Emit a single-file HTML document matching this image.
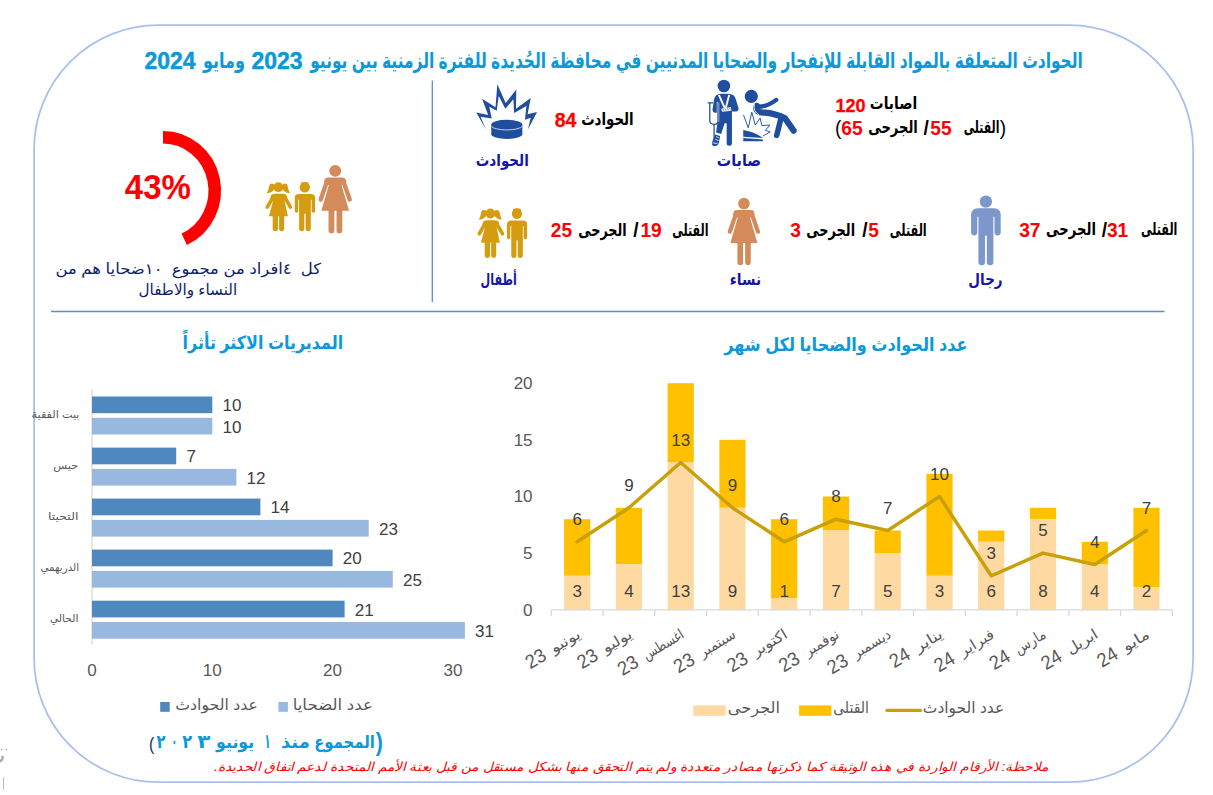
<!DOCTYPE html>
<html lang="ar"><head><meta charset="utf-8"><title>الحوادث المتعلقة بالمواد القابلة للإنفجار</title>
<style>html,body{margin:0;padding:0;background:#fff;overflow:hidden}svg{display:block}text{font-family:"Liberation Sans","DejaVu Sans",sans-serif;white-space:pre}</style></head><body>
<svg width="1213" height="795" viewBox="0 0 1213 795">
<rect width="1213" height="795" fill="#fff"/>
<rect x="34.1" y="25.2" width="1159" height="757" rx="124" ry="124" fill="none" stroke="#A9C0EE" stroke-width="1.8"/>
<line x1="432.3" y1="80.5" x2="432.3" y2="302.2" stroke="#5F88D0" stroke-width="1.3"/>
<line x1="51" y1="311.6" x2="1164.5" y2="311.6" stroke="#5F88D0" stroke-width="1.5"/>
<text x="696.5" y="67.6" font-size="21.5" fill="#0B99DA" text-anchor="middle" textLength="772.7" lengthAdjust="spacingAndGlyphs" font-weight="bold">الحوادث المتعلقة بالمواد القابلة للإنفجار والضحايا المدنيين في محافظة الحُديدة للفترة الزمنية بين يونيو</text>
<text transform="translate(277.0,68.6) scale(0.935,1)" font-size="24.6" fill="#0B99DA" text-anchor="middle" font-weight="bold" stroke="#0B99DA" stroke-width="0.45">2023</text>
<text x="224.0" y="67.6" font-size="21.5" fill="#0B99DA" text-anchor="middle" textLength="42.2" lengthAdjust="spacingAndGlyphs" font-weight="bold">ومايو</text>
<text transform="translate(170.0,68.6) scale(0.935,1)" font-size="24.6" fill="#0B99DA" text-anchor="middle" font-weight="bold" stroke="#0B99DA" stroke-width="0.45">2024</text>
<path d="M163.0,137.3 A51.75,53.3 0 0 1 184.21,239.22" fill="none" stroke="#FF0000" stroke-width="12.6"/>
<text x="157.8" y="199.4" font-size="34.5" font-weight="bold" fill="#FF0000" text-anchor="middle" textLength="66" lengthAdjust="spacingAndGlyphs">43%</text>
<text x="188.3" y="273.5" font-size="15.3" fill="#10226A" text-anchor="middle" textLength="265.7" lengthAdjust="spacingAndGlyphs">كل  ٤افراد من مجموع  ١٠ضحايا هم من</text>
<text x="187.8" y="294.5" font-size="15.3" fill="#10226A" text-anchor="middle" textLength="98.6" lengthAdjust="spacingAndGlyphs">النساء والاطفال</text>
<g transform="translate(265.30,182.20) scale(1.0000,1.0000)" fill="#D59C10"><circle cx="13.1" cy="4.95" r="4.95"/><path d="M8.7,1.9 Q5.0,0.2 3.9,3.6 Q3.4,7.6 1.6,10.9 Q6.0,10.9 8.6,7.8 Z"/><path d="M17.5,1.9 Q21.2,0.2 22.3,3.6 Q22.8,7.6 24.6,10.9 Q20.2,10.9 17.6,7.8 Z"/><rect x="5.3" y="11.5" width="16.5" height="7" rx="4.4" ry="4"/><path d="M8.1,17.2 H19 L22.6,34 H3.6 Z"/><path d="M8.2,14.3 L1.95,25 M18.9,14.3 L25.15,25" stroke="#D59C10" stroke-width="3.6" stroke-linecap="round" fill="none"/><path d="M7.4,33.5 H12.7 V46.4 A2.65,2.65 0 0 1 7.4,46.4 Z M13.8,33.5 H18.9 V46.4 A2.55,2.55 0 0 1 13.8,46.4 Z"/></g>
<g transform="translate(294.40,182.20) scale(1.0000,1.0000)" fill="#D59C10"><circle cx="10.4" cy="5.1" r="5.15"/><path d="M6.2,0.6 Q10.4,-1.1 14.4,0.5 L13.6,3 H7.2 Z"/><path d="M4.4,11.9 H16.6 A4.1,4.1 0 0 1 20.7,16 V28.8 A1.75,1.75 0 0 1 17.2,28.8 V17.5 H16.4 V46.4 A2.6,2.6 0 0 1 11.2,46.4 V31.5 H9.9 V46.4 A2.6,2.6 0 0 1 4.7,46.4 V17.5 H3.8 V28.8 A1.75,1.75 0 0 1 0.3,28.8 V16 A4.1,4.1 0 0 1 4.4,11.9 Z"/></g>
<g transform="translate(318.50,165.00) scale(1.0121,1.0015)" fill="#D38B5B"><circle cx="16.55" cy="5.8" r="5.9"/><rect x="5.7" y="12.4" width="21.6" height="7.6" rx="4.2" ry="4.2"/><path d="M10.45,19.2 H22.55 L30.2,45.8 H2.8 Z"/><path d="M8.8,15.2 L2.15,34.4 M24.2,15.2 L30.85,34.4" stroke="#D38B5B" stroke-width="4.3" stroke-linecap="round" fill="none"/><path d="M9.9,45 H15.7 V65.3 A2.9,2.9 0 0 1 9.9,65.3 Z M17.8,45 H23.5 V65.3 A2.85,2.85 0 0 1 17.8,65.3 Z"/></g>
<g transform="translate(477.30,208.60) scale(1.0000,1.0061)" fill="#D59C10"><circle cx="13.1" cy="4.95" r="4.95"/><path d="M8.7,1.9 Q5.0,0.2 3.9,3.6 Q3.4,7.6 1.6,10.9 Q6.0,10.9 8.6,7.8 Z"/><path d="M17.5,1.9 Q21.2,0.2 22.3,3.6 Q22.8,7.6 24.6,10.9 Q20.2,10.9 17.6,7.8 Z"/><rect x="5.3" y="11.5" width="16.5" height="7" rx="4.4" ry="4"/><path d="M8.1,17.2 H19 L22.6,34 H3.6 Z"/><path d="M8.2,14.3 L1.95,25 M18.9,14.3 L25.15,25" stroke="#D59C10" stroke-width="3.6" stroke-linecap="round" fill="none"/><path d="M7.4,33.5 H12.7 V46.4 A2.65,2.65 0 0 1 7.4,46.4 Z M13.8,33.5 H18.9 V46.4 A2.55,2.55 0 0 1 13.8,46.4 Z"/></g>
<g transform="translate(506.60,208.60) scale(0.9905,1.0061)" fill="#D59C10"><circle cx="10.4" cy="5.1" r="5.15"/><path d="M6.2,0.6 Q10.4,-1.1 14.4,0.5 L13.6,3 H7.2 Z"/><path d="M4.4,11.9 H16.6 A4.1,4.1 0 0 1 20.7,16 V28.8 A1.75,1.75 0 0 1 17.2,28.8 V17.5 H16.4 V46.4 A2.6,2.6 0 0 1 11.2,46.4 V31.5 H9.9 V46.4 A2.6,2.6 0 0 1 4.7,46.4 V17.5 H3.8 V28.8 A1.75,1.75 0 0 1 0.3,28.8 V16 A4.1,4.1 0 0 1 4.4,11.9 Z"/></g>
<g transform="translate(727.70,197.80) scale(0.9818,0.9853)" fill="#D38B5B"><circle cx="16.55" cy="5.8" r="5.9"/><rect x="5.7" y="12.4" width="21.6" height="7.6" rx="4.2" ry="4.2"/><path d="M10.45,19.2 H22.55 L30.2,45.8 H2.8 Z"/><path d="M8.8,15.2 L2.15,34.4 M24.2,15.2 L30.85,34.4" stroke="#D38B5B" stroke-width="4.3" stroke-linecap="round" fill="none"/><path d="M9.9,45 H15.7 V65.3 A2.9,2.9 0 0 1 9.9,65.3 Z M17.8,45 H23.5 V65.3 A2.85,2.85 0 0 1 17.8,65.3 Z"/></g>
<g transform="translate(971.10,195.40) scale(1.0000,0.9986)" fill="#7C97C9"><circle cx="14.8" cy="6.2" r="6.2"/><path d="M6.2,12.9 H23.4 A6.2,6.2 0 0 1 29.6,19.1 V37 A3.1,3.1 0 0 1 23.4,37 V21.5 H22.3 V66.7 A3.3,3.3 0 0 1 15.7,66.7 V40.5 H13.9 V66.7 A3.3,3.3 0 0 1 7.3,66.7 V21.5 H6.2 V37 A3.1,3.1 0 0 1 0,37 V19.1 A6.2,6.2 0 0 1 6.2,12.9 Z"/></g>
<g transform="translate(470,80) scale(0.08179)" fill="#1F4E9F"><path d="M200,612 L76,396 L222,428 L148,230 L312,332 L334,52 L436,282 L566,116 L562,352 L742,220 L704,420 L820,392 L708,604 L742,462 L672,486 L690,318 L540,402 L530,236 L432,352 L352,196 L326,376 L236,326 L266,470 L128,450 Z"/><path d="M260,548 V662 A190,58 0 0 0 640,662 V548 Z"/><ellipse cx="450" cy="545" rx="190" ry="58"/><path d="M262,566 A190,52 0 0 0 638,566" fill="none" stroke="#fff" stroke-width="9"/></g>
<g transform="translate(700,75) scale(0.12575)" fill="#1F4E9F" stroke="none"><circle cx="190" cy="88" r="50"/><path d="M118,300 Q98,296 100,270 L112,196 Q120,152 166,150 H226 Q274,152 286,196 L306,262 Q310,286 288,290 L254,290 V542 Q254,562 233,562 Q212,562 212,542 V384 H196 L168,470 L128,458 L150,300 Z"/><path d="M150,158 L196,262 M232,158 L205,262" stroke="#fff" stroke-width="15" fill="none"/><path d="M168,268 L246,254 L250,284 L176,292 Z" fill="#fff"/><path d="M182,270 l8,16 M200,267 l8,16 M218,264 l8,16 M236,261 l6,14" stroke="#1F4E9F" stroke-width="5" fill="none"/><path d="M143,214 V372" stroke="#fff" stroke-width="19" fill="none"/><path d="M64,221 H102 M78,224 V368 Q80,392 112,392 M152,212 Q143,212 143,228 V368 Q142,392 112,392 V520" stroke="#1F4E9F" stroke-width="10" fill="none" stroke-linecap="round"/><path d="M120,474 L160,486 L150,540 Q140,566 110,566 Q92,562 94,540 Z"/><path d="M128,490 L150,500 M122,512 L148,522 M100,540 L140,544" stroke="#fff" stroke-width="6" fill="none"/><circle cx="408" cy="170" r="52"/><path d="M470,252 Q540,250 606,198" stroke="#1F4E9F" stroke-width="34" stroke-linecap="round" fill="none"/><path d="M452,246 Q430,300 520,300 Q610,310 676,344 L744,442" stroke="#1F4E9F" stroke-width="50" stroke-linecap="round" stroke-linejoin="round" fill="none"/><path d="M640,360 L610,480" stroke="#1F4E9F" stroke-width="44" stroke-linecap="round" fill="none"/><path d="M432,232 Q420,290 470,318" stroke="#fff" stroke-width="7" fill="none"/><path d="M346,318 L384,420 L412,296 L440,398 L478,342 L492,402 L556,398 L520,440 L558,452 L500,486" stroke="#1F4E9F" stroke-width="7.5" fill="none" stroke-linejoin="miter"/><path d="M344,438 Q430,452 500,500 L344,492 Z M344,500 L500,512 V526 H344 Z"/></g>
<text x="502.3" y="166.0" font-size="16.3" fill="#1616A6" text-anchor="middle" textLength="53.0" lengthAdjust="spacingAndGlyphs" font-weight="bold">الحوادث</text>
<text x="739.0" y="165.8" font-size="16.3" fill="#1616A6" text-anchor="middle" textLength="44.3" lengthAdjust="spacingAndGlyphs" font-weight="bold">صابات</text>
<text x="498.7" y="284.8" font-size="16.3" fill="#1616A6" text-anchor="middle" textLength="36.2" lengthAdjust="spacingAndGlyphs" font-weight="bold">أطفال</text>
<text x="745.4" y="284.8" font-size="16.3" fill="#1616A6" text-anchor="middle" textLength="31.4" lengthAdjust="spacingAndGlyphs" font-weight="bold">نساء</text>
<text x="985.5" y="284.8" font-size="16.3" fill="#1616A6" text-anchor="middle" textLength="34.3" lengthAdjust="spacingAndGlyphs" font-weight="bold">رجال</text>
<text transform="translate(565.6,127.2) scale(0.95,1)" font-size="20.6" fill="#FF0000" text-anchor="middle" font-weight="bold" stroke="#FF0000" stroke-width="0.3">84</text>
<text x="607.4" y="124.5" font-size="17.0" fill="#000000" text-anchor="middle" textLength="52.4" lengthAdjust="spacingAndGlyphs" font-weight="bold">الحوادث</text>
<text transform="translate(850.6,111.6) scale(0.95,1)" font-size="19.0" fill="#FF0000" text-anchor="middle" font-weight="bold" stroke="#FF0000" stroke-width="0.3">120</text>
<text x="893.5" y="108.6" font-size="17.0" fill="#000000" text-anchor="middle" textLength="47.3" lengthAdjust="spacingAndGlyphs" font-weight="bold">اصابات</text>
<text transform="translate(838.2,134.5) scale(0.93,1)" font-size="20.6" fill="#000000" text-anchor="middle">(</text>
<text transform="translate(852.0,134.5) scale(0.93,1)" font-size="20.6" fill="#FF0000" text-anchor="middle" font-weight="bold">65</text>
<text x="893.0" y="132.8" font-size="17.0" fill="#000000" text-anchor="middle" textLength="49.7" lengthAdjust="spacingAndGlyphs" font-weight="bold">الجرحى</text>
<text transform="translate(926.2,134.5) scale(0.93,1)" font-size="20.6" fill="#000000" text-anchor="middle" font-weight="bold">/</text>
<text transform="translate(941.0,134.5) scale(0.93,1)" font-size="20.6" fill="#FF0000" text-anchor="middle" font-weight="bold">55</text>
<text x="981.6" y="132.8" font-size="17.0" fill="#000000" text-anchor="middle" textLength="35.6" lengthAdjust="spacingAndGlyphs" font-weight="bold">القتلى</text>
<text transform="translate(1003.0,134.5) scale(0.93,1)" font-size="20.6" fill="#000000" text-anchor="middle">)</text>
<text transform="translate(561.4,237.2) scale(0.93,1)" font-size="20.6" fill="#FF0000" text-anchor="middle" font-weight="bold">25</text>
<text x="602.5" y="235.5" font-size="17.0" fill="#000000" text-anchor="middle" textLength="48.5" lengthAdjust="spacingAndGlyphs" font-weight="bold">الجرحى</text>
<text transform="translate(635.8,237.2) scale(0.93,1)" font-size="20.6" fill="#000000" text-anchor="middle" font-weight="bold">/</text>
<text transform="translate(651.1,237.2) scale(0.93,1)" font-size="20.6" fill="#FF0000" text-anchor="middle" font-weight="bold">19</text>
<text x="690.4" y="235.5" font-size="17.0" fill="#000000" text-anchor="middle" textLength="36.3" lengthAdjust="spacingAndGlyphs" font-weight="bold">القتلى</text>
<text transform="translate(795.6,237.2) scale(0.93,1)" font-size="20.6" fill="#FF0000" text-anchor="middle" font-weight="bold">3</text>
<text x="830.7" y="235.5" font-size="17.0" fill="#000000" text-anchor="middle" textLength="48.8" lengthAdjust="spacingAndGlyphs" font-weight="bold">الجرحى</text>
<text transform="translate(864.8,237.2) scale(0.93,1)" font-size="20.6" fill="#000000" text-anchor="middle" font-weight="bold">/</text>
<text transform="translate(873.7,237.2) scale(0.93,1)" font-size="20.6" fill="#FF0000" text-anchor="middle" font-weight="bold">5</text>
<text x="908.3" y="235.5" font-size="17.0" fill="#000000" text-anchor="middle" textLength="36.9" lengthAdjust="spacingAndGlyphs" font-weight="bold">القتلى</text>
<text transform="translate(1029.8,236.9) scale(0.93,1)" font-size="20.6" fill="#FF0000" text-anchor="middle" font-weight="bold">37</text>
<text x="1071.0" y="235.2" font-size="17.0" fill="#000000" text-anchor="middle" textLength="49.9" lengthAdjust="spacingAndGlyphs" font-weight="bold">الجرحى</text>
<text transform="translate(1104.5,236.9) scale(0.93,1)" font-size="20.6" fill="#000000" text-anchor="middle" font-weight="bold">/</text>
<text transform="translate(1117.6,236.9) scale(0.93,1)" font-size="20.6" fill="#FF0000" text-anchor="middle" font-weight="bold">31</text>
<text x="1159.2" y="235.2" font-size="17.0" fill="#000000" text-anchor="middle" textLength="36.4" lengthAdjust="spacingAndGlyphs" font-weight="bold">القتلى</text>
<text x="262.9" y="348.9" font-size="18.6" fill="#0B99DA" text-anchor="middle" textLength="160.7" lengthAdjust="spacingAndGlyphs" font-weight="bold">المديريات الاكثر تأثراً</text>
<line x1="92.0" y1="389.5" x2="92.0" y2="644.5" stroke="#D9D9D9" stroke-width="1.3"/>
<rect x="92.0" y="396.5" width="120.3" height="16.7" fill="#4F88BE"/>
<rect x="92.0" y="417.8" width="120.3" height="16.7" fill="#98B8DF"/>
<text transform="translate(222.5,411.3) scale(0.98,1)" font-size="17.4" fill="#404040" text-anchor="start">10</text>
<text transform="translate(222.5,432.6) scale(0.98,1)" font-size="17.4" fill="#404040" text-anchor="start">10</text>
<text x="55.5" y="417.7" font-size="10.6" fill="#595959" text-anchor="middle" textLength="48.0" lengthAdjust="spacingAndGlyphs">بيت الفقية</text>
<rect x="92.0" y="447.6" width="84.2" height="16.7" fill="#4F88BE"/>
<rect x="92.0" y="468.9" width="144.4" height="16.7" fill="#98B8DF"/>
<text transform="translate(186.4,462.4) scale(0.98,1)" font-size="17.4" fill="#404040" text-anchor="start">7</text>
<text transform="translate(246.6,483.7) scale(0.98,1)" font-size="17.4" fill="#404040" text-anchor="start">12</text>
<text x="65.8" y="468.8" font-size="10.6" fill="#595959" text-anchor="middle" textLength="24.9" lengthAdjust="spacingAndGlyphs">حيس</text>
<rect x="92.0" y="498.6" width="168.4" height="16.7" fill="#4F88BE"/>
<rect x="92.0" y="519.9" width="276.7" height="16.7" fill="#98B8DF"/>
<text transform="translate(270.6,513.4) scale(0.98,1)" font-size="17.4" fill="#404040" text-anchor="start">14</text>
<text transform="translate(378.9,534.7) scale(0.98,1)" font-size="17.4" fill="#404040" text-anchor="start">23</text>
<text x="63.2" y="519.8" font-size="10.6" fill="#595959" text-anchor="middle" textLength="30.5" lengthAdjust="spacingAndGlyphs">التحيتا</text>
<rect x="92.0" y="549.6" width="240.6" height="16.7" fill="#4F88BE"/>
<rect x="92.0" y="570.9" width="300.8" height="16.7" fill="#98B8DF"/>
<text transform="translate(342.8,564.4) scale(0.98,1)" font-size="17.4" fill="#404040" text-anchor="start">20</text>
<text transform="translate(402.9,585.7) scale(0.98,1)" font-size="17.4" fill="#404040" text-anchor="start">25</text>
<text x="59.8" y="570.9" font-size="10.6" fill="#595959" text-anchor="middle" textLength="38.5" lengthAdjust="spacingAndGlyphs">الدريهمي</text>
<rect x="92.0" y="600.7" width="252.6" height="16.7" fill="#4F88BE"/>
<rect x="92.0" y="622.0" width="372.9" height="16.7" fill="#98B8DF"/>
<text transform="translate(354.8,615.5) scale(0.98,1)" font-size="17.4" fill="#404040" text-anchor="start">21</text>
<text transform="translate(475.1,636.8) scale(0.98,1)" font-size="17.4" fill="#404040" text-anchor="start">31</text>
<text x="64.2" y="621.9" font-size="10.6" fill="#595959" text-anchor="middle" textLength="28.5" lengthAdjust="spacingAndGlyphs">الحالي</text>
<text transform="translate(92.0,676.4) scale(0.98,1)" font-size="17.4" fill="#595959" text-anchor="middle">0</text>
<text transform="translate(212.3,676.4) scale(0.98,1)" font-size="17.4" fill="#595959" text-anchor="middle">10</text>
<text transform="translate(332.6,676.4) scale(0.98,1)" font-size="17.4" fill="#595959" text-anchor="middle">20</text>
<text transform="translate(452.9,676.4) scale(0.98,1)" font-size="17.4" fill="#595959" text-anchor="middle">30</text>
<rect x="160.2" y="702" width="9.5" height="9.8" fill="#4F88BE"/>
<text x="216.6" y="709.8" font-size="15.4" fill="#595959" text-anchor="middle" textLength="82.6" lengthAdjust="spacingAndGlyphs">عدد الحوادث</text>
<rect x="278.4" y="702" width="9.5" height="9.8" fill="#98B8DF"/>
<text x="332.8" y="709.8" font-size="15.4" fill="#595959" text-anchor="middle" textLength="80.2" lengthAdjust="spacingAndGlyphs">عدد الضحايا</text>
<text x="845.9" y="351.0" font-size="18.6" fill="#0B99DA" text-anchor="middle" textLength="243.4" lengthAdjust="spacingAndGlyphs" font-weight="bold">عدد الحوادث والضحايا لكل شهر</text>
<text transform="translate(532.6,615.7) scale(0.98,1)" font-size="17.4" fill="#595959" text-anchor="end">0</text>
<text transform="translate(532.6,559.0) scale(0.98,1)" font-size="17.4" fill="#595959" text-anchor="end">5</text>
<text transform="translate(532.6,502.4) scale(0.98,1)" font-size="17.4" fill="#595959" text-anchor="end">10</text>
<text transform="translate(532.6,445.7) scale(0.98,1)" font-size="17.4" fill="#595959" text-anchor="end">15</text>
<text transform="translate(532.6,389.1) scale(0.98,1)" font-size="17.4" fill="#595959" text-anchor="end">20</text>
<rect x="564.1" y="519.2" width="26.2" height="56.6" fill="#FFC000"/>
<rect x="564.1" y="575.8" width="26.2" height="34.0" fill="#FFD9A2"/>
<rect x="615.8" y="507.8" width="26.2" height="56.6" fill="#FFC000"/>
<rect x="615.8" y="564.5" width="26.2" height="45.3" fill="#FFD9A2"/>
<rect x="667.6" y="383.2" width="26.2" height="79.3" fill="#FFC000"/>
<rect x="667.6" y="462.5" width="26.2" height="147.3" fill="#FFD9A2"/>
<rect x="719.4" y="439.8" width="26.2" height="68.0" fill="#FFC000"/>
<rect x="719.4" y="507.8" width="26.2" height="102.0" fill="#FFD9A2"/>
<rect x="771.1" y="519.2" width="26.2" height="79.3" fill="#FFC000"/>
<rect x="771.1" y="598.5" width="26.2" height="11.3" fill="#FFD9A2"/>
<rect x="822.9" y="496.5" width="26.2" height="34.0" fill="#FFC000"/>
<rect x="822.9" y="530.5" width="26.2" height="79.3" fill="#FFD9A2"/>
<rect x="874.6" y="530.5" width="26.2" height="22.7" fill="#FFC000"/>
<rect x="874.6" y="553.1" width="26.2" height="56.6" fill="#FFD9A2"/>
<rect x="926.4" y="473.8" width="26.2" height="102.0" fill="#FFC000"/>
<rect x="926.4" y="575.8" width="26.2" height="34.0" fill="#FFD9A2"/>
<rect x="978.1" y="530.5" width="26.2" height="11.3" fill="#FFC000"/>
<rect x="978.1" y="541.8" width="26.2" height="68.0" fill="#FFD9A2"/>
<rect x="1029.9" y="507.8" width="26.2" height="11.3" fill="#FFC000"/>
<rect x="1029.9" y="519.2" width="26.2" height="90.6" fill="#FFD9A2"/>
<rect x="1081.7" y="541.8" width="26.2" height="22.7" fill="#FFC000"/>
<rect x="1081.7" y="564.5" width="26.2" height="45.3" fill="#FFD9A2"/>
<rect x="1133.4" y="507.8" width="26.2" height="79.3" fill="#FFC000"/>
<rect x="1133.4" y="587.1" width="26.2" height="22.7" fill="#FFD9A2"/>
<line x1="551.3" y1="609.8" x2="1172.4" y2="609.8" stroke="#D9D9D9" stroke-width="1.3"/>
<path d="M551.3,609.8 v6.2 M603.1,609.8 v6.2 M654.8,609.8 v6.2 M706.6,609.8 v6.2 M758.3,609.8 v6.2 M810.1,609.8 v6.2 M861.9,609.8 v6.2 M913.6,609.8 v6.2 M965.4,609.8 v6.2 M1017.1,609.8 v6.2 M1068.9,609.8 v6.2 M1120.6,609.8 v6.2 M1172.4,609.8 v6.2 " stroke="#D9D9D9" stroke-width="1.3" fill="none"/>
<polyline points="577.2,541.8 628.9,507.8 680.7,462.5 732.5,507.8 784.2,541.8 836.0,519.2 887.7,530.5 939.5,496.5 991.2,575.8 1043.0,553.1 1094.8,564.5 1146.5,530.5" fill="none" stroke="#C8A00A" stroke-width="3.5" stroke-linejoin="round" stroke-linecap="round"/>
<text transform="translate(577.2,597.0) scale(0.98,1)" font-size="17.4" fill="#404040" text-anchor="middle">3</text>
<text transform="translate(577.2,525.0) scale(0.98,1)" font-size="17.4" fill="#404040" text-anchor="middle">6</text>
<text transform="translate(628.9,597.0) scale(0.98,1)" font-size="17.4" fill="#404040" text-anchor="middle">4</text>
<text transform="translate(628.9,491.0) scale(0.98,1)" font-size="17.4" fill="#404040" text-anchor="middle">9</text>
<text transform="translate(680.7,597.0) scale(0.98,1)" font-size="17.4" fill="#404040" text-anchor="middle">13</text>
<text transform="translate(680.7,445.7) scale(0.98,1)" font-size="17.4" fill="#404040" text-anchor="middle">13</text>
<text transform="translate(732.5,597.0) scale(0.98,1)" font-size="17.4" fill="#404040" text-anchor="middle">9</text>
<text transform="translate(732.5,491.0) scale(0.98,1)" font-size="17.4" fill="#404040" text-anchor="middle">9</text>
<text transform="translate(784.2,597.0) scale(0.98,1)" font-size="17.4" fill="#404040" text-anchor="middle">1</text>
<text transform="translate(784.2,525.0) scale(0.98,1)" font-size="17.4" fill="#404040" text-anchor="middle">6</text>
<text transform="translate(836.0,597.0) scale(0.98,1)" font-size="17.4" fill="#404040" text-anchor="middle">7</text>
<text transform="translate(836.0,502.4) scale(0.98,1)" font-size="17.4" fill="#404040" text-anchor="middle">8</text>
<text transform="translate(887.7,597.0) scale(0.98,1)" font-size="17.4" fill="#404040" text-anchor="middle">5</text>
<text transform="translate(887.7,513.7) scale(0.98,1)" font-size="17.4" fill="#404040" text-anchor="middle">7</text>
<text transform="translate(939.5,597.0) scale(0.98,1)" font-size="17.4" fill="#404040" text-anchor="middle">3</text>
<text transform="translate(939.5,479.7) scale(0.98,1)" font-size="17.4" fill="#404040" text-anchor="middle">10</text>
<text transform="translate(991.2,597.0) scale(0.98,1)" font-size="17.4" fill="#404040" text-anchor="middle">6</text>
<text transform="translate(991.2,559.0) scale(0.98,1)" font-size="17.4" fill="#404040" text-anchor="middle">3</text>
<text transform="translate(1043.0,597.0) scale(0.98,1)" font-size="17.4" fill="#404040" text-anchor="middle">8</text>
<text transform="translate(1043.0,536.3) scale(0.98,1)" font-size="17.4" fill="#404040" text-anchor="middle">5</text>
<text transform="translate(1094.8,597.0) scale(0.98,1)" font-size="17.4" fill="#404040" text-anchor="middle">4</text>
<text transform="translate(1094.8,547.7) scale(0.98,1)" font-size="17.4" fill="#404040" text-anchor="middle">4</text>
<text transform="translate(1146.5,597.0) scale(0.98,1)" font-size="17.4" fill="#404040" text-anchor="middle">2</text>
<text transform="translate(1146.5,513.7) scale(0.98,1)" font-size="17.4" fill="#404040" text-anchor="middle">7</text>
<g transform="translate(578.7,632.5) rotate(-31)"><text x="0" y="5.3" font-size="14.6" fill="#595959" text-anchor="end" textLength="32" lengthAdjust="spacingAndGlyphs">يونيو</text><text transform="translate(-40.2,6.8) scale(0.94,1)" font-size="19.6" fill="#595959" text-anchor="end">23</text></g>
<g transform="translate(630.4,632.5) rotate(-31)"><text x="0" y="5.3" font-size="14.6" fill="#595959" text-anchor="end" textLength="32" lengthAdjust="spacingAndGlyphs">يوليو</text><text transform="translate(-40.2,6.8) scale(0.94,1)" font-size="19.6" fill="#595959" text-anchor="end">23</text></g>
<g transform="translate(682.2,632.5) rotate(-31)"><text x="0" y="5.3" font-size="14.6" fill="#595959" text-anchor="end" textLength="45" lengthAdjust="spacingAndGlyphs">اغسطس</text><text transform="translate(-53.2,6.8) scale(0.94,1)" font-size="19.6" fill="#595959" text-anchor="end">23</text></g>
<g transform="translate(734.0,632.5) rotate(-31)"><text x="0" y="5.3" font-size="14.6" fill="#595959" text-anchor="end" textLength="40" lengthAdjust="spacingAndGlyphs">سبتمبر</text><text transform="translate(-48.2,6.8) scale(0.94,1)" font-size="19.6" fill="#595959" text-anchor="end">23</text></g>
<g transform="translate(785.7,632.5) rotate(-31)"><text x="0" y="5.3" font-size="14.6" fill="#595959" text-anchor="end" textLength="38" lengthAdjust="spacingAndGlyphs">اكتوبر</text><text transform="translate(-46.2,6.8) scale(0.94,1)" font-size="19.6" fill="#595959" text-anchor="end">23</text></g>
<g transform="translate(837.5,632.5) rotate(-31)"><text x="0" y="5.3" font-size="14.6" fill="#595959" text-anchor="end" textLength="38" lengthAdjust="spacingAndGlyphs">نوفمبر</text><text transform="translate(-46.2,6.8) scale(0.94,1)" font-size="19.6" fill="#595959" text-anchor="end">23</text></g>
<g transform="translate(889.2,632.5) rotate(-31)"><text x="0" y="5.3" font-size="14.6" fill="#595959" text-anchor="end" textLength="42" lengthAdjust="spacingAndGlyphs">ديسمبر</text><text transform="translate(-50.2,6.8) scale(0.94,1)" font-size="19.6" fill="#595959" text-anchor="end">23</text></g>
<g transform="translate(941.0,632.5) rotate(-31)"><text x="0" y="5.3" font-size="14.6" fill="#595959" text-anchor="end" textLength="30" lengthAdjust="spacingAndGlyphs">يناير</text><text transform="translate(-38.2,6.8) scale(0.94,1)" font-size="19.6" fill="#595959" text-anchor="end">24</text></g>
<g transform="translate(992.7,632.5) rotate(-31)"><text x="0" y="5.3" font-size="14.6" fill="#595959" text-anchor="end" textLength="38" lengthAdjust="spacingAndGlyphs">فبراير</text><text transform="translate(-46.2,6.8) scale(0.94,1)" font-size="19.6" fill="#595959" text-anchor="end">24</text></g>
<g transform="translate(1044.5,632.5) rotate(-31)"><text x="0" y="5.3" font-size="14.6" fill="#595959" text-anchor="end" textLength="34" lengthAdjust="spacingAndGlyphs">مارس</text><text transform="translate(-42.2,6.8) scale(0.94,1)" font-size="19.6" fill="#595959" text-anchor="end">24</text></g>
<g transform="translate(1096.3,632.5) rotate(-31)"><text x="0" y="5.3" font-size="14.6" fill="#595959" text-anchor="end" textLength="34" lengthAdjust="spacingAndGlyphs">ابريل</text><text transform="translate(-42.2,6.8) scale(0.94,1)" font-size="19.6" fill="#595959" text-anchor="end">24</text></g>
<g transform="translate(1148.0,632.5) rotate(-31)"><text x="0" y="5.3" font-size="14.6" fill="#595959" text-anchor="end" textLength="29" lengthAdjust="spacingAndGlyphs">مايو</text><text transform="translate(-37.2,6.8) scale(0.94,1)" font-size="19.6" fill="#595959" text-anchor="end">24</text></g>
<rect x="693.2" y="705.4" width="32.5" height="10.4" fill="#FFD9A2"/>
<text x="753.9" y="713.2" font-size="15.6" fill="#595959" text-anchor="middle" textLength="52.3" lengthAdjust="spacingAndGlyphs">الجرحى</text>
<rect x="799.1" y="705.4" width="32.2" height="10.4" fill="#FFC000"/>
<text x="851.0" y="713.2" font-size="15.6" fill="#595959" text-anchor="middle" textLength="35.7" lengthAdjust="spacingAndGlyphs">القتلى</text>
<line x1="887" y1="710.4" x2="920.5" y2="710.4" stroke="#C8A00A" stroke-width="3.4" stroke-linecap="round"/>
<text x="963.5" y="713.2" font-size="15.6" fill="#595959" text-anchor="middle" textLength="81.4" lengthAdjust="spacingAndGlyphs">عدد الحوادث</text>
<text x="344.5" y="747.8" font-size="17.6" fill="#0B99DA" text-anchor="middle" textLength="60.6" lengthAdjust="spacingAndGlyphs" font-weight="bold">المجموع</text>
<text x="295.4" y="747.8" font-size="17.6" fill="#0B99DA" text-anchor="middle" textLength="28.8" lengthAdjust="spacingAndGlyphs" font-weight="bold">منذ</text>
<text x="267.5" y="747.8" font-size="20" fill="#0B99DA" text-anchor="middle" textLength="5.9" lengthAdjust="spacingAndGlyphs" font-weight="bold">١</text>
<text x="235.1" y="747.8" font-size="17.6" fill="#0B99DA" text-anchor="middle" textLength="38.0" lengthAdjust="spacingAndGlyphs" font-weight="bold">يونيو</text>
<text x="160.9" y="747.8" font-size="18.5" fill="#0B99DA" text-anchor="middle" textLength="9.0" lengthAdjust="spacingAndGlyphs" font-weight="bold">٢</text>
<text x="174.3" y="747.8" font-size="18.5" fill="#0B99DA" text-anchor="middle" textLength="5.6" lengthAdjust="spacingAndGlyphs" font-weight="bold">٠</text>
<text x="187.2" y="747.8" font-size="18.5" fill="#0B99DA" text-anchor="middle" textLength="9.9" lengthAdjust="spacingAndGlyphs" font-weight="bold">٢</text>
<text x="203.8" y="747.8" font-size="18.5" fill="#0B99DA" text-anchor="middle" textLength="13.1" lengthAdjust="spacingAndGlyphs" font-weight="bold">٣</text>
<text transform="translate(379.2,750.6) scale(0.85,1)" font-size="25" fill="#0B99DA" text-anchor="middle" font-weight="bold">)</text>
<text transform="translate(151.5,750.4) scale(0.9,1)" font-size="17.5" fill="#1B2A70" text-anchor="middle">(</text>
<text x="631.5" y="770.7" font-size="12.4" fill="#FF0000" text-anchor="middle" textLength="835.1" lengthAdjust="spacingAndGlyphs" font-style="italic" direction="rtl">ملاحظة: الأرقام الواردة في هذه الوثيقة كما ذكرتها مصادر متعددة ولم يتم التحقق منها بشكل مستقل من قبل بعثة الأمم المتحدة لدعم اتفاق الحديدة.</text>
<text x="5.6" y="763.6" font-size="26" fill="#ABABAB" text-anchor="end">ت</text>
<text x="-0.6" y="753.2" font-size="13" fill="#9A9A9A" text-anchor="start" letter-spacing="0.4">··</text>
<rect x="3" y="777" width="1.1" height="12.6" fill="#BDBDBD"/>
</svg>
</body></html>
